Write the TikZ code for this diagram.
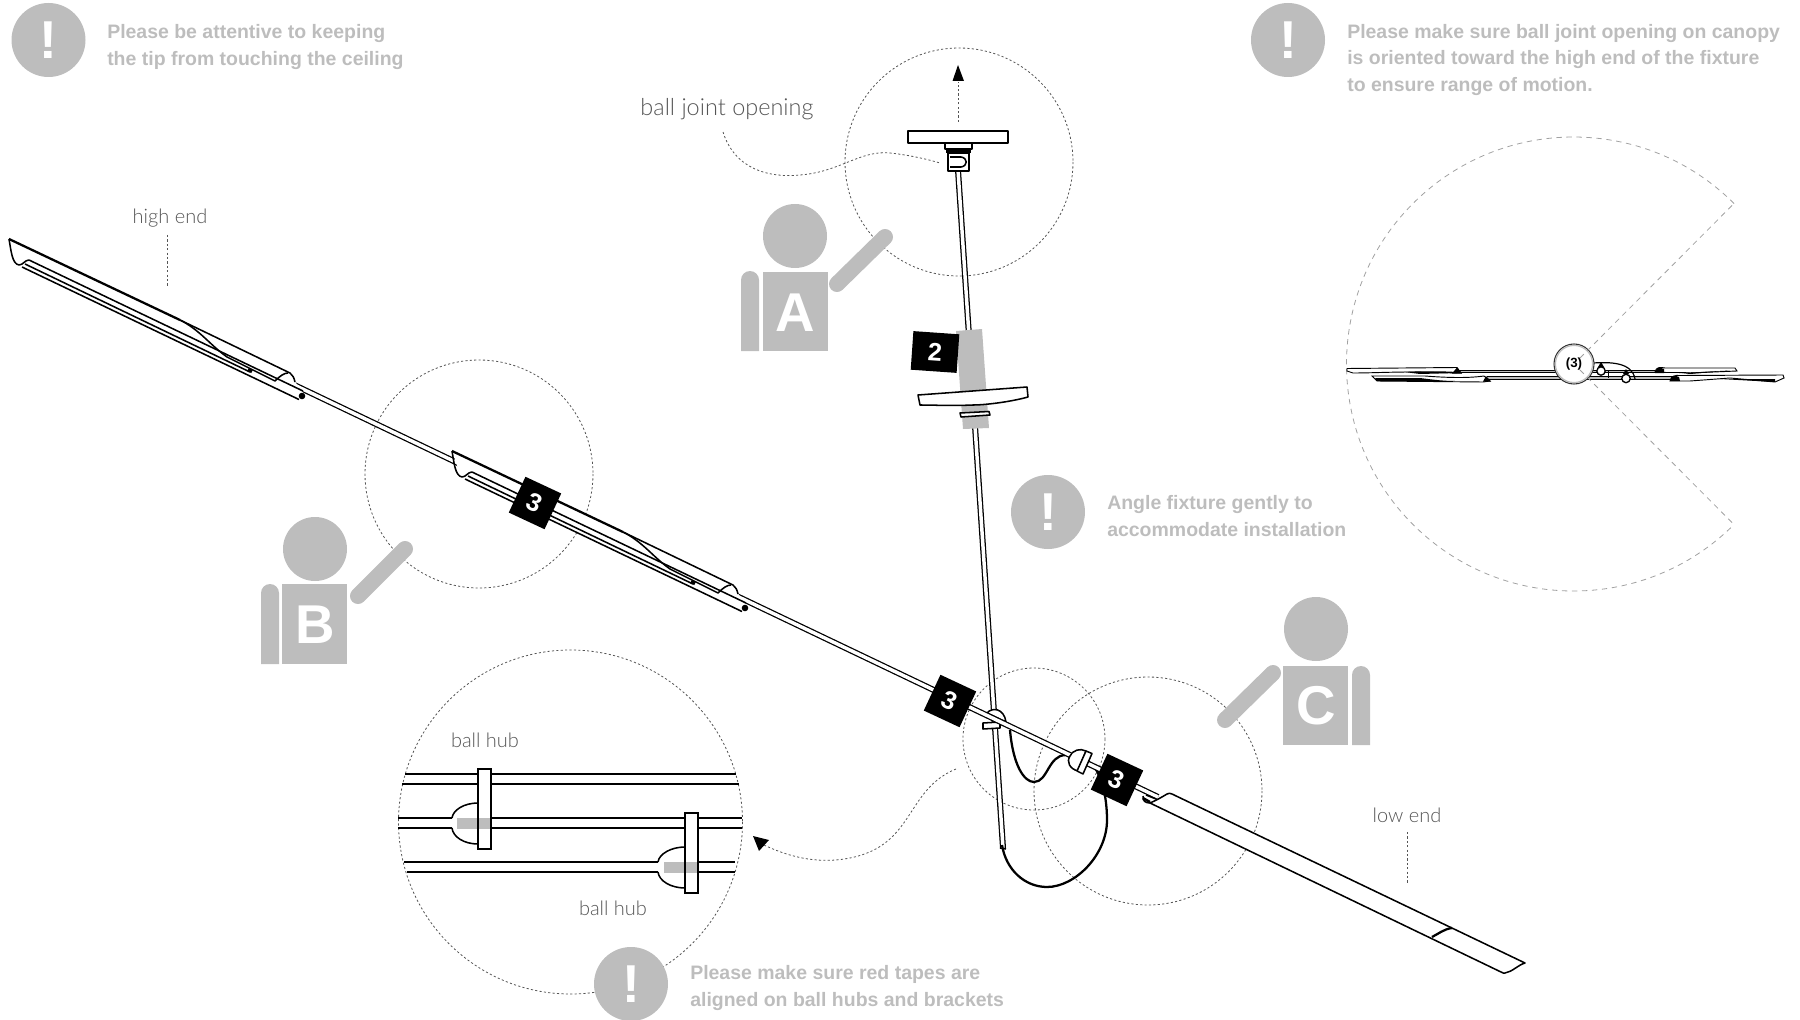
\documentclass[tikz,border=0pt]{standalone}
\usepackage{fontspec}
\setmainfont{Liberation Sans}
\newfontfamily\lightf{Lato Light}
\usetikzlibrary{arrows.meta,calc}
\definecolor{gr}{HTML}{BDBDBD}
\definecolor{lab}{HTML}{555555}
\tikzset{
 ln/.style={line width=1.15pt,black,line join=round},
 thk/.style={line width=1.7pt,black,line join=round},
 dots/.style={line width=.6pt,lab,dash pattern=on 1.6pt off 1.7pt},
 pac/.style={line width=.6pt,gr!85!black,dash pattern=on 4pt off 3.5pt},
 rod/.style={line width=4.5pt,black},
 rodin/.style={line width=2.6pt,white},
 warn/.style={circle,fill=gr,minimum size=55.5pt,inner sep=0pt,text=white,font=\bfseries\fontsize{40}{40}\selectfont},
 note/.style={anchor=west,text=gr,font=\bfseries\fontsize{14.6}{19.8}\selectfont,align=left,inner sep=0pt},
 lbl/.style={text=lab,font=\lightf\fontsize{15}{16}\selectfont,inner sep=0pt},
 badge/.style={fill=black,text=white,minimum size=29.6pt,inner sep=0pt,font=\bfseries\fontsize{19}{19}\selectfont},
 who/.style={text=white,font=\bfseries\fontsize{41}{41}\selectfont,inner sep=0pt},
 arm/.style={line width=12pt,gr,line cap=round},
 mrod/.style={line width=2.6pt,black},
 mrodin/.style={line width=1.1pt,gr},
}
\newcommand{\bladepath}{
 \fill[white] (9,239) -- (290,373) -- (296,383) -- (304,394) -- (299,400) -- (22,267) -- (18,265) -- cycle;
 \draw[thk] (9,239) -- (180,320);
 \draw[ln] (180,320) -- (290,373) .. controls (293,375) and (294,378) .. (295,382);
 \draw[ln] (9,239) .. controls (11,250) and (12,264) .. (19,265) .. controls (23,265) and (25,260) .. (29,260) -- (303,391);
 \draw[ln] (180,320) .. controls (200,330) and (210,345) .. (227,357) -- (275,381) .. controls (280,376) and (284,373) .. (288,373);
 \draw[ln] (22,267) -- (299,399.5);
 \draw[ln] (25,264) -- (250,372);
 \draw[line width=2.6pt,black] (248,369.5) -- (252,371.5);
 \fill[black] (302,396) circle (3.3);
}
\begin{document}
\begin{tikzpicture}[x=.75pt,y=-.75pt]
\useasboundingbox (0,0) rectangle (1800,1020);
% dotted circles
\draw[dots] (959,162) circle[radius=114];
\draw[dots] (479,474) circle[radius=114];
\draw[dots] (1148,791) circle[radius=114];
\draw[dots] (1034,739) circle[radius=71];
\draw[dots] (570.5,822) circle[radius=172];
% warnings
\node[warn] (w1) at (48.5,40) {!};
\node[warn] (w2) at (1288,40) {!};
\node[warn] (w3) at (1048,512) {!};
\node[warn] (w4) at (631,984) {!};
\node[note] (n1) at (107,47) {Please be attentive to keeping\\the tip from touching the ceiling};
\node[note] (n2) at (1347,60) {Please make sure ball joint opening on canopy\\is oriented toward the high end of the fixture\\to ensure range of motion.};
\node[note] (n3) at (1107,516) {Angle fixture gently to\\accommodate installation};
\node[note] (n4) at (690,988) {Please make sure red tapes are\\aligned on ball hubs and brackets};
% labels
\node[lbl] (hi) at (170,218) {high end};
\node[lbl] (lo) at (1407,815) {low end};
\node[lbl,font=\lightf\fontsize{17.6}{18}\selectfont] (bj) at (727,109) {ball joint opening};
\node[lbl] (h1) at (485,740) {ball hub};
\node[lbl] (h2) at (613,908) {ball hub};
\coordinate (hia) at (167,235); \coordinate (hib) at (167,287);
\coordinate (loa) at (1407,832); \coordinate (lob) at (1407,883);
\draw[dots] (hia) -- (hib);
\draw[dots] (loa) -- (lob);
\draw[dots] (723,132) .. controls (735,170) and (770,178) .. (800,175) .. controls (840,172) and (860,150) .. (890,153) .. controls (910,155) and (930,160) .. (940,163);
\coordinate (ca) at (956,769); \coordinate (cb) at (753,836);
\draw[dots] (ca) .. controls (905,790) and (915,845) .. (850,858) .. controls (815,865) and (785,855) .. (764,845);
\fill[black] (cb) -- (769,840) -- (759,851) -- cycle;
% persons
\fill[gr] (795,236) circle[radius=32];
\fill[gr] (763,272) rectangle (828,351);
\fill[gr] (741,351) -- (741,280) arc[start angle=180,end angle=360,radius=9] -- (759,351) -- cycle;
\draw[arm] (837,284) -- (885,237);
\node[who] (pa) at (795.5,313) {A};
\fill[gr] (315,549) circle[radius=32];
\fill[gr] (282,584) rectangle (347,664);
\fill[gr] (261,664) -- (261,593) arc[start angle=180,end angle=360,radius=9] -- (279,664) -- cycle;
\draw[arm] (358,596) -- (405,549);
\node[who] (pb) at (315,625) {B};
\fill[gr] (1316,629) circle[radius=32];
\fill[gr] (1283,666) rectangle (1348,745);
\fill[gr] (1352,745) -- (1352,675) arc[start angle=180,end angle=360,radius=9] -- (1370,745) -- cycle;
\draw[arm] (1273,673) -- (1225,720);
\node[who] (pc) at (1316,706) {C};
% vertical rod
\coordinate (va) at (958,170); \coordinate (vb) at (1003,848);
\draw[rod] (va) -- (vb);
\draw[rodin] (va) -- (vb);
\draw[ln] (1000,848) -- (1006,849);
% wires
\draw[thk] (1002,845) .. controls (1006,870) and (1025,887) .. (1047,887) .. controls (1075,887) and (1107,855) .. (1107,820) .. controls (1107,800) and (1103,780) .. (1095,768);
\draw[thk] (1010,730) .. controls (1013,765) and (1024,782) .. (1034,782) .. controls (1048,782) and (1048,755) .. (1066,755);
% hub on vertical
\filldraw[ln,fill=white] (987,713) .. controls (992,707) and (1004,708) .. (1006,722) -- cycle;
\filldraw[ln,fill=white] (983,723) -- (1000,722) -- (1000,728) -- (983,729) -- cycle;
% long rod
\coordinate (ra) at (288,382); \coordinate (rb) at (1158,797);
\draw[rod] (ra) -- (rb);
\draw[rodin] (ra) -- (rb);
% second hub
\filldraw[ln,fill=white] (1070,756) .. controls (1073,750) and (1080,748) .. (1086,751) -- (1078,771) .. controls (1070,769) and (1066,762) .. (1070,756) -- cycle;
\draw[line width=2.6pt,white] (1072,755) -- (1080,759);
\filldraw[ln,fill=white] (1086,751) -- (1092,753.5) -- (1083,774) -- (1077,771) -- cycle;
% canopy top
\filldraw[ln,fill=white] (908,131) rectangle (1008,143);
\filldraw[ln,fill=white] (945,143) -- (972,143) -- (972,149) -- (945,149) -- cycle;
\fill[black] (946,149) rectangle (971,153);
\filldraw[ln,fill=white] (948,153) -- (969,153) -- (969,171) -- (948,171) -- cycle;
\draw[ln] (950,157) -- (961,157) .. controls (968,158) and (968,166) .. (961,167) -- (950,167);
\coordinate (upa) at (958,122); \coordinate (upb) at (958,82);
\draw[dots] (upa) -- (upb);
\fill[black] (958,65) -- (964,81) -- (952.5,81) -- cycle;
% tape
\fill[gr] (956,331) -- (982,329) -- (989,428) -- (963,429) -- cycle;
\filldraw[ln,fill=white] (918,395) -- (1027,387) -- (1028,397) .. controls (1010,402) and (985,405) .. (973,405) .. controls (950,406) and (935,405) .. (920,405) -- cycle;
\filldraw[ln,fill=white] (960,413) -- (989,411.5) -- (990,415) -- (961,417) -- cycle;
% badges
\node[badge,rotate=-4,minimum width=34.5pt,minimum height=29pt] (b2) at (935,352) {2};
\node[badge,rotate=-25] (b3b) at (950,701) {3};
\node[badge,rotate=-25] (b3c) at (1117,780) {3};
% blades
\bladepath
\begin{scope}[shift={(443,212)}]
\bladepath
\end{scope}
\node[badge,rotate=-25] (b3a) at (535,503) {3};
% low blade
\filldraw[ln,fill=white] (1150,803) .. controls (1157,800) and (1162,797) .. (1167,794) .. controls (1168,793) and (1171,793) .. (1172,794) -- (1525,963) .. controls (1518,965) and (1512,972) .. (1505,973) .. controls (1504,973.5) and (1503,973) .. (1501,972) -- cycle;
\draw[thk] (1432,937) .. controls (1438,934) and (1444,929) .. (1452,928);
\draw[ln] (1143,796) .. controls (1142,801) and (1146,803) .. (1150,803);
\draw[line width=1.8pt] (1143,798) -- (1150,802);
\draw[ln] (1146,795) -- (1156,799);
% detail circle
\draw[ln] (405,774) -- (736,774);
\draw[ln] (402,784) -- (739,784);
\draw[ln] (398,818) -- (742,818);
\draw[ln] (398,828) -- (742,828);
\draw[ln] (404,862) -- (735,862);
\draw[ln] (407,872) -- (735,872);
\fill[white] (478,803) .. controls (464,803) and (453,810) .. (452,818) -- (452,828) .. controls (453,837) and (464,844) .. (478,844) -- cycle;
\draw[ln] (478,803) .. controls (464,803) and (453,810) .. (452,818);
\draw[ln] (452,828) .. controls (453,837) and (464,844) .. (478,844);
\fill[white] (478,769) rectangle (491,849);
\fill[gr] (457,818) rectangle (490,829);
\draw[line width=1.3pt,black] (478,769) rectangle (491,849);
\fill[white] (685,847) .. controls (671,847) and (659,854) .. (658,862) -- (658,872) .. controls (659,881) and (671,888) .. (685,888) -- cycle;
\draw[ln] (685,847) .. controls (671,847) and (659,854) .. (658,862);
\draw[ln] (658,872) .. controls (659,881) and (671,888) .. (685,888);
\fill[white] (685,813) rectangle (698,893);
\fill[gr] (664,862) rectangle (697,873);
\draw[line width=1.3pt,black] (685,813) rectangle (698,893);
% pacman
\coordinate (pc0) at (1574,364);
\coordinate (pt) at (1734,203.5);
\coordinate (pl) at (1734,524.5);
\draw[pac] (pt) arc[start angle=-45,end angle=-315,radius=227];
% mini fixture
\draw[mrod] (1458,371.5) -- (1660,371.5);
\draw[mrodin] (1458,371.5) -- (1660,371.5);
\draw[mrod] (1487,378.2) -- (1673,378.2);
\draw[mrodin] (1487,378.2) -- (1673,378.2);
\filldraw[line width=.7pt,fill=white] (1347,368.5) -- (1457,367.5) -- (1461,373) -- (1410,372) .. controls (1390,372) and (1370,373) .. (1353,373) -- (1347,371) -- cycle;
\fill[black] (1404,372) .. controls (1420,371) and (1440,371) .. (1457,372) -- (1457,373) -- (1420,374) -- cycle;
\fill[black] (1452,373.5) -- (1457,367.5) -- (1462,373.5) -- cycle;
\filldraw[line width=.7pt,fill=white] (1372,376) -- (1425,376) .. controls (1450,378) and (1470,378) .. (1484,376) -- (1490,381) -- (1483,382) -- (1377,381) -- cycle;
\fill[black] (1375,378) -- (1420,378) .. controls (1435,380) and (1445,381) .. (1455,381) -- (1377,381) -- cycle;
\fill[black] (1483,381.5) -- (1486,376) -- (1491,381.5) -- cycle;
\filldraw[line width=.7pt,fill=white] (1655,372) .. controls (1656,367) and (1660,367) .. (1665,368) -- (1735,368) -- (1737,371) -- (1690,373) .. controls (1680,372) and (1665,373) .. (1655,372) -- cycle;
\fill[black] (1655,373) .. controls (1656,367) and (1660,367) .. (1664,369) -- (1664,373) -- cycle;
\fill[black] (1682,373) .. controls (1700,372) and (1720,371) .. (1730,370.5) -- (1690,374) -- cycle;
\filldraw[line width=.7pt,fill=white] (1670,381) .. controls (1671,376) and (1675,375) .. (1680,375.5) -- (1783,375) -- (1784,378) -- (1775,382) -- (1730,378) -- (1690,381) -- cycle;
\fill[black] (1670,381) .. controls (1671,375) and (1675,375) .. (1679,377) -- (1680,381) -- cycle;
\fill[black] (1720,379) -- (1775,379) -- (1775,382) -- cycle;
\draw[line width=.9pt] (1593,363) .. controls (1610,362) and (1632,362) .. (1635,379);
\draw[line width=.7pt] (1608,371) -- (1608,378);
\filldraw[line width=1pt,fill=white] (1601,371) circle[radius=4.2];
\fill[black] (1601,362) -- (1604,367) -- (1598,367) -- cycle;
\filldraw[line width=1pt,fill=white] (1626,378.5) circle[radius=4.2];
\fill[black] (1626,369) -- (1629,374) -- (1623,374) -- cycle;
\filldraw[line width=.8pt,fill=white,draw=black!80] (pc0) circle[radius=20];
\draw[line width=.9pt,gr] (pc0) circle[radius=18.6];
\draw[pac] (1580,358) -- (pt);
\draw[pac] (1580,370) -- (pl);
\node[inner sep=0pt,font=\bfseries\fontsize{10}{10}\selectfont] (mini) at (pc0) {(3)};
\end{tikzpicture}
\end{document}
